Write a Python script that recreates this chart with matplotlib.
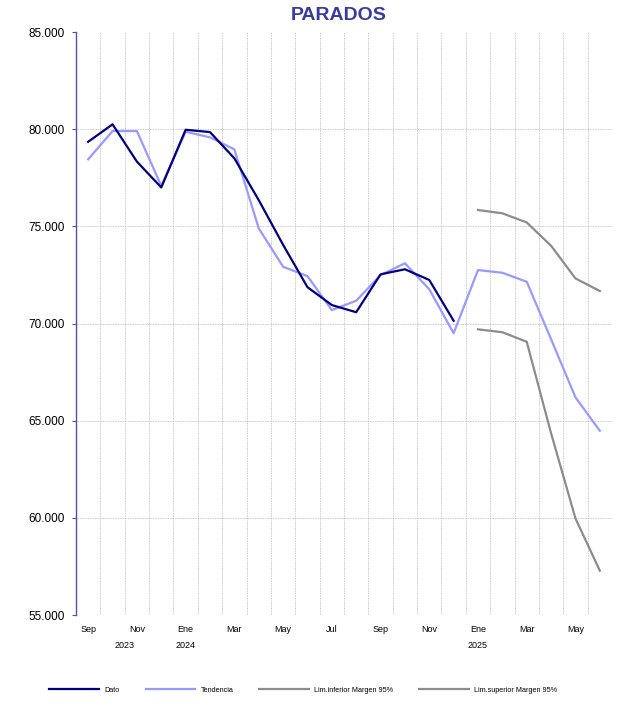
import numpy as np
import matplotlib
matplotlib.use("Agg")
import matplotlib.pyplot as plt
from matplotlib.ticker import FuncFormatter, FixedLocator

plt.rcParams['font.family'] = ['Liberation Sans', 'DejaVu Sans']

meses = ['Sep', 'Oct', 'Nov', 'Dic', 'Ene', 'Feb', 'Mar', 'Abr', 'May', 'Jun', 'Jul', 'Ago',
         'Sep', 'Oct', 'Nov', 'Dic', 'Ene', 'Feb', 'Mar', 'Abr', 'May', 'Jun']
anios = ['2023', '2024', '2025']
anios_pos = [1.5, 4, 16]

dato = [79350, 80250, 78330, 77000, 79970, 79850, 78500, 76350, 74050, 71870, 70950, 70580,
        72530, 72790, 72240, 70140]
tendencia = [78450, 79900, 79900, 77080, 79870, 79580, 78960, 74900, 72920, 72440, 70690, 71170,
             72490, 73100, 71760, 69500, 72750, 72610, 72150, 69190, 66200, 64480]
lim_inf = [69700, 69550, 69060, 64350, 59970, 57280]
lim_sup = [75840, 75670, 75200, 74000, 72320, 71670]
inicio_pred = 16

x = np.arange(len(meses))

fig = plt.figure(figsize=(6.19, 7.01), dpi=100)
ax = fig.add_axes([76 / 619, 1 - 615 / 701, 536 / 619, 583 / 701])

ax.plot(x[:len(dato)], dato, color='#000080', lw=1.6, label='Dato', zorder=4)
ax.plot(x, tendencia, color='#9999ff', lw=1.6, label='Tendencia', zorder=3)
xp = x[inicio_pred:inicio_pred + len(lim_inf)]
ax.plot(xp, lim_inf, color='#8c8c8c', lw=1.6, label='Lim.inferior Margen 95%', zorder=2)
ax.plot(xp, lim_sup, color='#8c8c8c', lw=1.6, label='Lim.superior Margen 95%', zorder=2)

ax.set_xlim(-0.5, len(meses) - 0.5)
ax.set_ylim(55000, 85000)
ax.set_yticks(np.arange(55000, 85001, 5000))
ax.yaxis.set_major_formatter(FuncFormatter(lambda v, p: f"{int(v):,}".replace(',', '.')))

ax.set_xticks(x[::2])
ax.set_xticklabels(meses[::2])
ax.xaxis.set_minor_locator(FixedLocator(np.arange(0.5, len(meses) - 1, 1)))

for s in ['top', 'right', 'bottom']:
    ax.spines[s].set_visible(False)
ax.spines['left'].set_color('#5050b8')
ax.spines['left'].set_linewidth(1.0)

ax.tick_params(axis='y', length=3, width=0.8, color='#5050b8', pad=5, labelsize=8.5)
ax.tick_params(axis='x', which='both', length=0, pad=7, labelsize=6.5)

ax.grid(axis='y', which='major', linestyle=(0, (1, 1)), color='#b8b8b8', lw=0.6)
ax.grid(axis='x', which='minor', linestyle=(0, (1, 1)), color='#b8b8b8', lw=0.6)
ax.set_axisbelow(True)
fig.canvas.draw()
glines = ax.yaxis.get_gridlines()
glines[0].set_visible(False)
glines[-1].set_visible(False)

for a, p in zip(anios, anios_pos):
    ax.text(p, -0.053, a, transform=ax.get_xaxis_transform(), ha='center', va='center', fontsize=6.5)

fig.text(0.547, 1 - 15 / 701, 'PARADOS', ha='center', va='center', fontsize=14,
         fontweight='bold', color='#3a3aa0')

fig.legend(loc='center', bbox_to_anchor=(0.49, 1 - 690 / 701), ncol=4, frameon=False,
           fontsize=5.2, handlelength=6.9, handletextpad=0.7, columnspacing=3.6)

fig.savefig('out.png', dpi=100)
